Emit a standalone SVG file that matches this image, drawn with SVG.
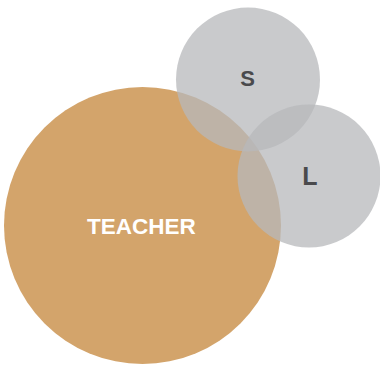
<svg xmlns="http://www.w3.org/2000/svg" width="380" height="367" viewBox="0 0 380 367">
<style>
.bg{fill:#ffffff}
.teacher{fill:#D3A46B}
.small{fill:#B7B8BB;fill-opacity:0.75}
.lbl{font-family:"Liberation Sans",Arial,sans-serif;font-weight:bold;text-anchor:middle}
.wh{fill:#ffffff}
.dk{fill:#4a4a4c}
</style>
<rect class="bg" x="0" y="0" width="380" height="367"/>
<g id="teacher">
<circle class="teacher" cx="142.5" cy="225.5" r="138.5"/>
</g>
<g id="s">
<circle class="small" cx="248" cy="79.5" r="72"/>
</g>
<g id="l">
<circle class="small" cx="309" cy="176" r="71.5"/>
</g>
<g id="connectors"></g>
<g id="labels">
<text class="lbl wh" x="141.5" y="233.5" font-size="22.5">TEACHER</text>
<text class="lbl dk" x="247.5" y="86" font-size="22">S</text>
<text class="lbl dk" x="310" y="185.3" font-size="25">L</text>
</g>
</svg>
